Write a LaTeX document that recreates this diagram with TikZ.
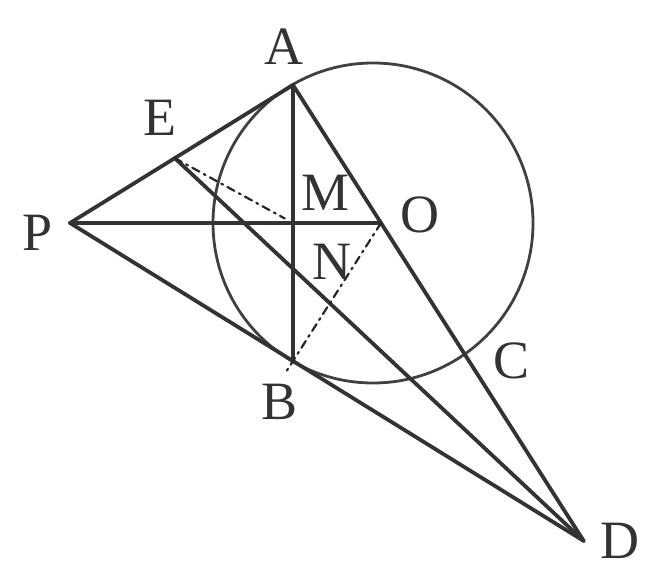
\documentclass[tikz,border=0pt]{standalone}
\usepackage{fontspec}
\setmainfont{Liberation Serif}
\usetikzlibrary{calc}
\begin{document}
\begin{tikzpicture}[x=0.5pt, y=-0.5pt, line cap=round, line join=round,
    seg/.style={draw=black!80, line width=1.9pt},
    aux/.style={draw=black!85, line width=1.1pt, dash pattern=on 4pt off 2.5pt on 1pt off 2.5pt},
    lbl/.style={inner sep=0pt, font=\fontsize{27}{30}\selectfont, text=black!80}]
    \useasboundingbox (0,0) rectangle (668,582);

    % 1. 圆心、切点与各交点
    \coordinate (O) at (381,223);
    \coordinate (Oc) at (373,223);
    \coordinate (P) at (70,223);
    \coordinate (A) at (293,85);
    \coordinate (B) at (293,361);
    \coordinate (C) at ($(A)!2!(O)$);
    \coordinate (D) at (intersection of A--C and P--B);
    \coordinate (E) at ($(P)!0.47!(A)$);
    \coordinate (M) at (intersection of P--O and A--B);
    \coordinate (N) at (intersection of E--D and A--B);

    % 2. 圆 O（手绘图中圆心略偏左）
    \draw[black!75, line width=1.4pt] (Oc) circle[radius=80pt];

    % 3. 切线、弦与割线
    \draw[seg] (P) -- (A);
    \draw[seg] (P) -- (O);
    \draw[seg] (P) -- (D);
    \draw[seg] (A) -- (B);
    \draw[seg] (A) -- (D);
    \draw[seg] (E) -- (D);

    % 4. 点划辅助线
    \draw[aux] (E) -- ($(E)!0.93!(M)$);
    \draw[aux] (O) -- ($(O)!1.08!(B)$);

    % 5. 字母标注
    \node[lbl] (lA) at (284,47) {A};
    \node[lbl] (lE) at (160,118) {E};
    \node[lbl] (lP) at (38,233) {P};
    \node[lbl] (lM) at (326,193) {M};
    \node[lbl] (lO) at (420,215) {O};
    \node[lbl] (lN) at (332,262) {N};
    \node[lbl] (lB) at (280,402) {B};
    \node[lbl] (lC) at (511,361) {C};
    \node[lbl] (lD) at (620,541) {D};
\end{tikzpicture}
\end{document}
